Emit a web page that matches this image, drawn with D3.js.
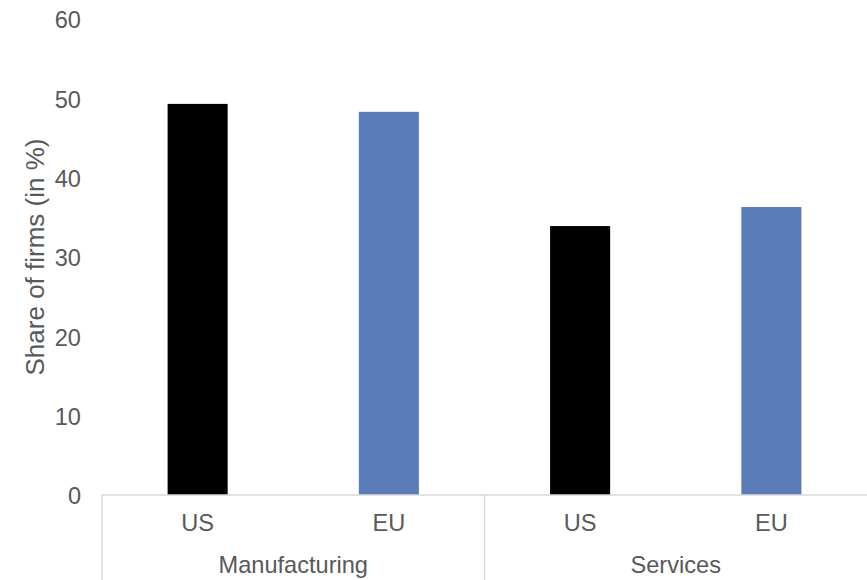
<!DOCTYPE html>
<html>
<head>
<meta charset="utf-8">
<script src="https://cdn.jsdelivr.net/npm/d3@7"></script>
<style>
  html, body { margin: 0; padding: 0; background: #fff; }
  svg { display: block; }
  text { font-family: "Liberation Sans", Arial, sans-serif; fill: #595959; }
</style>
</head>
<body>
<svg id="chart" width="867" height="580"></svg>
<script>
// Share of firms by sector and region
const sectors = ["Manufacturing", "Services"];
const regions = ["US", "EU"];
const usValues = [49.3, 33.9];
const euValues = [48.3, 36.3];
const yTicks = [0, 10, 20, 30, 40, 50, 60];
const yTitle = "Share of firms (in %)";

const regionColors = { US: "#000000", EU: "#5a7cb9" };

const rows = sectors.flatMap((s, i) => [
  { sector: s, region: "US", value: usValues[i] },
  { sector: s, region: "EU", value: euValues[i] }
]);

const svg = d3.select("#chart");
const W = 867, H = 580;
const plot = { left: 102, right: 867, top: 19, bottom: 495 };
const axisColor = "#d9d9d9";
const fontSize = "23.6px";
const titleSize = "26px";

const x0 = d3.scaleBand().domain(sectors).range([plot.left, plot.right]).padding(0);
const x1 = d3.scaleBand().domain(regions).range([0, x0.bandwidth()])
  .paddingInner(0.686).paddingOuter(0.343);
const y = d3.scaleLinear().domain([0, 60]).range([plot.bottom, plot.top]);

// Bars
svg.append("g")
  .selectAll("rect")
  .data(rows)
  .join("rect")
  .attr("x", d => x0(d.sector) + x1(d.region))
  .attr("width", x1.bandwidth())
  .attr("y", d => y(d.value))
  .attr("height", d => y(0) - y(d.value))
  .attr("fill", d => regionColors[d.region]);

// Y axis labels
const yAxis = svg.append("g")
  .attr("transform", `translate(${plot.left},0)`)
  .call(d3.axisLeft(y).tickValues(yTicks).tickSize(0).tickPadding(21).tickFormat(d3.format("d")));
yAxis.select(".domain").remove();
yAxis.selectAll("text")
  .style("font-size", fontSize)
  .style("font-family", "'Liberation Sans', Arial, sans-serif")
  .attr("fill", "#595959")
  .attr("dy", "0.37em");

// Y title
svg.append("text")
  .attr("transform", `translate(35,${(plot.top + plot.bottom) / 2}) rotate(-90)`)
  .attr("text-anchor", "middle")
  .attr("dy", "0.35em")
  .style("font-size", titleSize)
  .text(yTitle);

// Category axis: baseline and group separators
const axisG = svg.append("g").attr("stroke", axisColor).attr("stroke-width", 1.5);
axisG.append("line")
  .attr("x1", plot.left).attr("x2", plot.right)
  .attr("y1", plot.bottom).attr("y2", plot.bottom);
const separators = sectors.map(s => x0(s));
axisG.selectAll("line.sep")
  .data(separators)
  .join("line")
  .attr("class", "sep")
  .attr("x1", d => d).attr("x2", d => d)
  .attr("y1", plot.bottom).attr("y2", H);

// Region labels
svg.append("g")
  .selectAll("text")
  .data(rows)
  .join("text")
  .attr("x", d => x0(d.sector) + x1(d.region) + x1.bandwidth() / 2)
  .attr("y", 531)
  .attr("text-anchor", "middle")
  .style("font-size", fontSize)
  .text(d => d.region);

// Sector labels
svg.append("g")
  .selectAll("text")
  .data(sectors)
  .join("text")
  .attr("x", d => x0(d) + x0.bandwidth() / 2)
  .attr("y", 573)
  .attr("text-anchor", "middle")
  .style("font-size", fontSize)
  .text(d => d);
</script>
</body>
</html>
